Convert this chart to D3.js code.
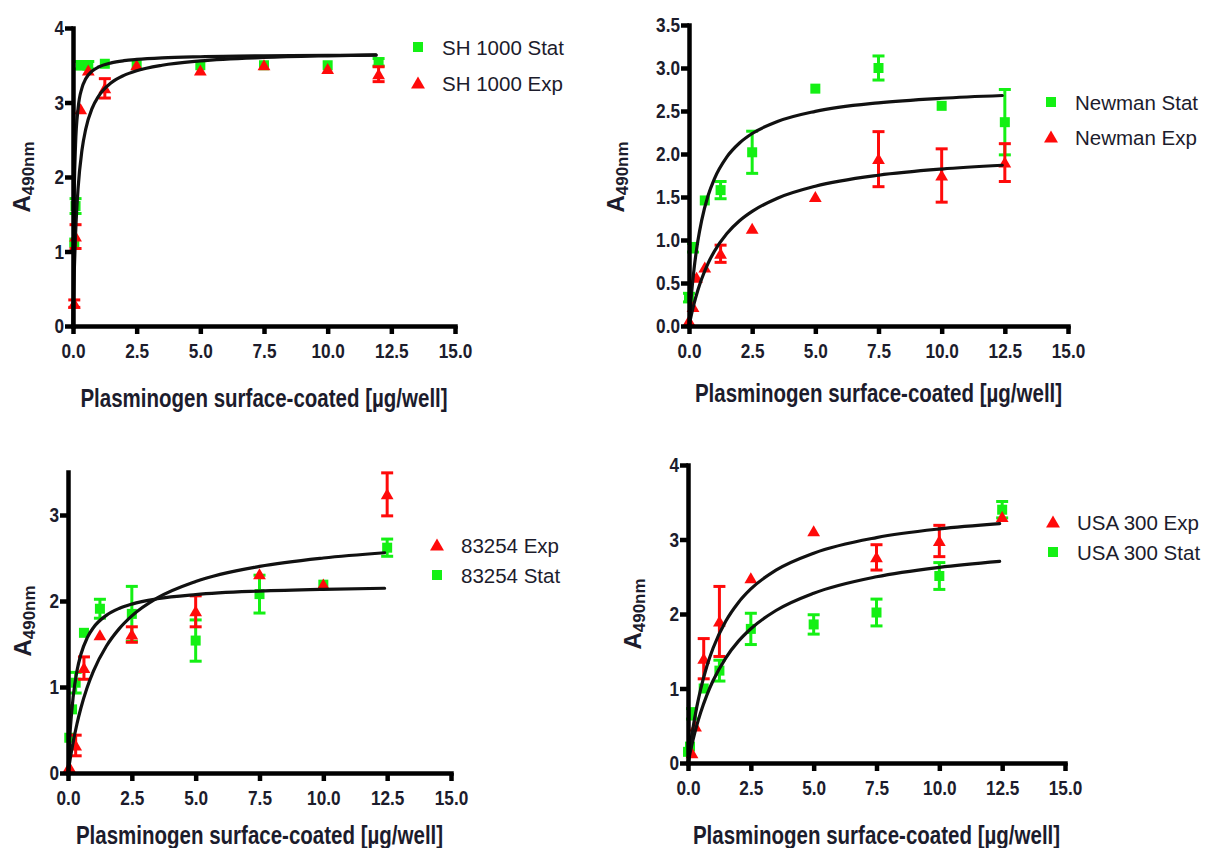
<!DOCTYPE html>
<html>
<head>
<meta charset="utf-8">
<script src="https://cdn.jsdelivr.net/npm/d3@7"></script>
<style>
  body { margin: 0; background: #fff; }
  svg text { font-family: "Liberation Sans", Arial, sans-serif; }
</style>
</head>
<body>
<svg id="fig" width="1205" height="848"></svg>
<script>
// ---- data ----
const xTicks = [0, 2.5, 5, 7.5, 10, 12.5, 15];
const yTicksWhole = [0, 1, 2, 3, 4];
const yTicksHalf = [0, 0.5, 1, 1.5, 2, 2.5, 3, 3.5];
const yTicks83254 = [0, 1, 2, 3];
const xTitle = "Plasminogen surface-coated [µg/well]";

// points: [x, mean, error]
const sh1000Stat = [[0.05, 1.12, 0], [0.1, 1.61, 0.1], [0.3, 3.5, 0.05], [0.6, 3.5, 0.05], [1.25, 3.52, 0],
  [2.5, 3.5, 0], [5, 3.5, 0], [7.5, 3.5, 0], [10, 3.5, 0], [12, 3.54, 0.05]];
const sh1000Exp = [[0.05, 0.3, 0.05], [0.1, 1.2, 0.16], [0.3, 2.91, 0], [0.6, 3.43, 0], [1.25, 3.19, 0.13],
  [2.5, 3.5, 0], [5, 3.43, 0], [7.5, 3.5, 0], [10, 3.45, 0], [12, 3.38, 0.1]];

const newmanStat = [[0, 0.33, 0.05], [0.16, 0.91, 0.05], [0.625, 1.46, 0], [1.25, 1.58, 0.1], [2.5, 2.02, 0.245],
  [5, 2.76, 0], [7.5, 3.0, 0.14], [10, 2.56, 0], [12.5, 2.37, 0.38]];
const newmanExp = [[0, 0.06, 0], [0.16, 0.22, 0], [0.3, 0.56, 0], [0.625, 0.68, 0], [1.25, 0.84, 0.1],
  [2.5, 1.13, 0], [5, 1.5, 0], [7.5, 1.94, 0.32], [10, 1.75, 0.31], [12.5, 1.9, 0.22]];

const s83254Exp = [[0.05, 0.07, 0], [0.3, 0.32, 0.12], [0.625, 1.22, 0.13], [1.25, 1.6, 0], [2.5, 1.61, 0.09],
  [5, 1.88, 0.18], [7.5, 2.31, 0], [10, 2.19, 0], [12.5, 3.24, 0.25]];
const s83254Stat = [[0.05, 0.41, 0], [0.16, 0.74, 0], [0.3, 1.05, 0.12], [0.625, 1.63, 0], [1.25, 1.91, 0.11],
  [2.5, 1.85, 0.32], [5, 1.54, 0.24], [7.5, 2.08, 0.22], [10, 2.19, 0], [12.5, 2.62, 0.1]];

const usa300Exp = [[0.16, 0.13, 0], [0.3, 0.49, 0], [0.625, 1.4, 0.27], [1.25, 1.9, 0.47], [2.5, 2.48, 0],
  [5, 3.11, 0], [7.5, 2.76, 0.17], [10, 2.98, 0.21], [12.5, 3.3, 0]];
const usa300Stat = [[0, 0.15, 0], [0.08, 0.22, 0], [0.16, 0.66, 0.07], [0.625, 1.0, 0], [1.25, 1.24, 0.14],
  [2.5, 1.8, 0.21], [5, 1.86, 0.13], [7.5, 2.02, 0.18], [10, 2.51, 0.18], [12.5, 3.4, 0.11]];

// fitted curves
const fitXsh = [0, 0.02, 0.05, 0.1, 0.2, 0.35, 0.5, 0.75, 1, 1.5, 2, 2.5, 3.5, 5, 7.5, 10, 11.9];
const sh1000StatFit = [0, 1.043, 1.825, 2.433, 2.92, 3.194, 3.318, 3.422, 3.476, 3.532, 3.561, 3.578, 3.599, 3.614, 3.626, 3.632, 3.635];
const sh1000ExpFit = [0, 0.336, 0.74, 1.233, 1.85, 2.355, 2.643, 2.921, 3.083, 3.265, 3.364, 3.426, 3.5, 3.558, 3.604, 3.627, 3.639];

const fitX = [0, 0.05, 0.1, 0.2, 0.35, 0.5, 0.75, 1, 1.5, 2, 2.5, 3.5, 5, 7.5, 10, 12.4];
const newmanStatFit = [0, 0.201, 0.376, 0.664, 0.987, 1.226, 1.511, 1.709, 1.967, 2.128, 2.238, 2.378, 2.496, 2.595, 2.648, 2.68];
const newmanExpFit = [0, 0.072, 0.139, 0.26, 0.416, 0.547, 0.726, 0.867, 1.076, 1.224, 1.333, 1.486, 1.625, 1.753, 1.825, 1.869];
const s83254StatFit = [0, 0.314, 0.55, 0.88, 1.185, 1.375, 1.571, 1.692, 1.833, 1.913, 1.964, 2.026, 2.075, 2.115, 2.136, 2.148];
const s83254ExpFit = [0, 0.098, 0.19, 0.356, 0.57, 0.75, 0.994, 1.188, 1.474, 1.676, 1.827, 2.036, 2.227, 2.402, 2.5, 2.561];
const usa300ExpFit = [0, 0.131, 0.254, 0.473, 0.753, 0.986, 1.299, 1.543, 1.902, 2.152, 2.336, 2.589, 2.817, 3.026, 3.142, 3.213];
const usa300StatFit = [0, 0.084, 0.163, 0.31, 0.505, 0.674, 0.912, 1.107, 1.409, 1.632, 1.802, 2.047, 2.279, 2.5, 2.627, 2.707];

// ---- styles ----
const GREEN = "#14f014";
const RED = "#ff0a0a";
const INK = "#1c1c2c";
const NARROW = 0.82;   // tick labels / x title are condensed in the original

const svg = d3.select("#fig");

const panels = [
  { x0: 73, x1: 455, y0: 326, y1: 28, yMax: 4, yTicks: yTicksWhole, yFmt: d3.format("d"),
    yTitle: [22, 177], xTitleY: 398, legend: [418, 47, 36],
    series: [
      { name: "SH 1000 Stat", pts: sh1000Stat, fx: fitXsh, fy: sh1000StatFit, shape: "square" },
      { name: "SH 1000 Exp", pts: sh1000Exp, fx: fitXsh, fy: sh1000ExpFit, shape: "triangle" }] },
  { x0: 689, x1: 1068, y0: 326, y1: 25, yMax: 3.5, yTicks: yTicksHalf, yFmt: d3.format(".1f"),
    yTitle: [616, 177], xTitleY: 393, legend: [1051, 102, 35],
    series: [
      { name: "Newman Stat", pts: newmanStat, fx: fitX, fy: newmanStatFit, shape: "square" },
      { name: "Newman Exp", pts: newmanExp, fx: fitX, fy: newmanExpFit, shape: "triangle" }] },
  { x0: 68, x1: 451, y0: 773, y1: 472, yMax: 3.5, yTicks: yTicks83254, yFmt: d3.format("d"),
    yTitle: [23, 621], xTitleY: 835, legend: [437, 545, 30],
    series: [
      { name: "83254 Exp", pts: s83254Exp, fx: fitX, fy: s83254ExpFit, shape: "triangle" },
      { name: "83254 Stat", pts: s83254Stat, fx: fitX, fy: s83254StatFit, shape: "square" }] },
  { x0: 688, x1: 1065, y0: 763, y1: 465, yMax: 4, yTicks: yTicksWhole, yFmt: d3.format("d"),
    yTitle: [633, 614], xTitleY: 835, legend: [1053, 522, 30],
    series: [
      { name: "USA 300 Exp", pts: usa300Exp, fx: fitX, fy: usa300ExpFit, shape: "triangle" },
      { name: "USA 300 Stat", pts: usa300Stat, fx: fitX, fy: usa300StatFit, shape: "square" }] }
];

const triPath = "M0,-5.5L5.8,4.5L-5.8,4.5Z";

function drawMarker(g, shape, cx, cy, size) {
  if (shape === "square") {
    g.append("rect")
      .attr("x", cx - size / 2).attr("y", cy - size / 2)
      .attr("width", size).attr("height", size)
      .attr("fill", GREEN);
  } else {
    g.append("path")
      .attr("d", triPath)
      .attr("transform", "translate(" + cx + "," + cy + ") scale(" + size / 10 + ")")
      .attr("fill", RED);
  }
}

function drawPanel(p) {
  const g = svg.append("g");
  const x = d3.scaleLinear().domain([0, 15]).range([p.x0, p.x1]);
  const y = d3.scaleLinear().domain([0, p.yMax]).range([p.y0, p.y1]);

  // points and error bars, green first so red sits on top
  const order = p.series.slice().sort((a, b) => (a.shape === "square" ? -1 : 1));
  order.forEach(s => {
    const col = s.shape === "square" ? GREEN : RED;
    const bars = g.append("g");
    s.pts.filter(d => d[2] > 0).forEach(d => {
      const xx = x(d[0]), top = y(d[1] + d[2]), bot = y(d[1] - d[2]);
      bars.append("line").attr("x1", xx).attr("x2", xx).attr("y1", top).attr("y2", bot)
        .attr("stroke", col).attr("stroke-width", 3);
      [top, bot].forEach(v => bars.append("line")
        .attr("x1", xx - 6).attr("x2", xx + 6).attr("y1", v).attr("y2", v)
        .attr("stroke", col).attr("stroke-width", 3));
    });
    const marks = g.append("g");
    s.pts.forEach(d => drawMarker(marks, s.shape, x(d[0]), y(d[1]), s.shape === "square" ? 10 : 11));
  });

  // fitted curves drawn over the points
  const line = d3.line().x(d => x(d[0])).y(d => y(d[1])).curve(d3.curveMonotoneX);
  p.series.forEach(s => {
    g.append("path")
      .datum(s.fx.map((v, i) => [v, s.fy[i]]))
      .attr("d", line)
      .attr("fill", "none")
      .attr("stroke", "#111")
      .attr("stroke-width", 3.2)
      .attr("stroke-linecap", "round");
  });

  // axes
  const xAxis = g.append("g")
    .attr("transform", "translate(0," + p.y0 + ")")
    .call(d3.axisBottom(x).tickValues(xTicks).tickFormat(d3.format(".1f")).tickSize(8).tickSizeOuter(0));
  const yAxis = g.append("g")
    .attr("transform", "translate(" + p.x0 + ",0)")
    .call(d3.axisLeft(y).tickValues(p.yTicks).tickFormat(p.yFmt).tickSize(8).tickSizeOuter(0));

  [xAxis, yAxis].forEach(a => {
    a.select(".domain").attr("stroke", "#000").attr("stroke-width", 4.5).attr("stroke-linecap", "square");
    a.selectAll(".tick line").attr("stroke", "#000").attr("stroke-width", 4.5);
    a.selectAll(".tick text")
      .attr("fill", INK)
      .attr("font-size", 21)
      .attr("font-weight", "bold")
      .attr("font-family", "'Liberation Sans', Arial, sans-serif");
  });
  xAxis.selectAll(".tick text").attr("y", 17).attr("transform", "scale(" + NARROW + ",1)");
  yAxis.selectAll(".tick text").attr("x", -9 / NARROW).attr("transform", "scale(" + NARROW + ",1)");

  // axis titles
  g.append("text")
    .attr("transform", "translate(" + (p.x0 + p.x1) / 2 + "," + p.xTitleY + ") scale(" + NARROW + ",1)")
    .attr("text-anchor", "middle")
    .attr("dominant-baseline", "central")
    .attr("font-size", 25)
    .attr("font-weight", "bold")
    .attr("fill", INK)
    .text(xTitle);

  const yt = g.append("text")
    .attr("transform", "translate(" + p.yTitle[0] + "," + p.yTitle[1] + ") rotate(-90)")
    .attr("text-anchor", "middle")
    .attr("font-weight", "bold")
    .attr("fill", INK);
  yt.append("tspan").attr("font-size", 24).attr("dy", 8).text("A");
  yt.append("tspan").attr("font-size", 17).attr("dy", 4).text("490nm");

  // legend
  const [lx, ly, gap] = p.legend;
  p.series.forEach((s, i) => {
    const cy = ly + i * gap;
    drawMarker(g, s.shape, lx, cy, s.shape === "square" ? 10 : 12);
    g.append("text")
      .attr("x", lx + 24).attr("y", cy)
      .attr("dominant-baseline", "central")
      .attr("font-size", 20.5)
      .attr("fill", INK)
      .text(s.name);
  });
}

panels.forEach(drawPanel);
</script>
</body>
</html>
